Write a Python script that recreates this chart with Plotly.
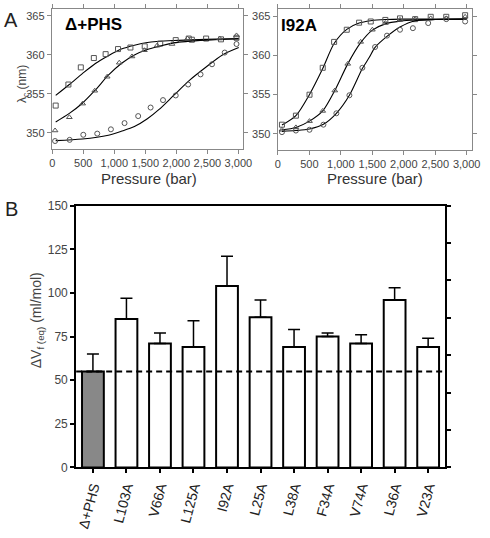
import plotly.graph_objects as go

# ---------------- Panel A data (Δ+PHS) ----------------
phs_sq_p = [55, 260, 460, 670, 860, 1060, 1260, 1490, 1740, 1990, 2200, 2250, 2480, 2720, 2970]
phs_sq_l = [353.5, 356.2, 358.4, 359.6, 360.1, 360.75, 360.95, 361.1, 361.45, 361.9, 362.1, 361.95, 362.1, 362.0, 362.2]
phs_tri_p = [45, 275, 490, 685, 885, 1080, 1285, 1485, 1690, 1930, 2180, 2700, 2970]
phs_tri_l = [350.3, 352.0, 353.75, 355.4, 357.2, 359.0, 359.8, 360.6, 361.2, 361.4, 362.1, 362.1, 362.5]
phs_cir_p = [45, 280, 500, 725, 945, 1165, 1385, 1585, 1785, 1990, 2190, 2390, 2575, 2780, 2970]
phs_cir_l = [348.95, 349.1, 349.75, 349.9, 350.45, 351.25, 352.15, 353.25, 354.2, 354.8, 356.2, 357.5, 358.8, 360.3, 361.4]

phs_fit_sq_p = [55, 275, 485, 695, 904, 1113, 1324, 1533, 1957, 2480, 3006]
phs_fit_sq_l = [354.8, 356.2, 357.6, 358.9, 359.9, 360.75, 361.25, 361.6, 361.85, 362.0, 362.1]
phs_fit_tri_p = [55, 275, 485, 695, 904, 1113, 1324, 1533, 1722, 1957, 2480, 3006]
phs_fit_tri_l = [351.4, 352.5, 353.8, 355.5, 357.4, 358.9, 360.0, 360.7, 361.1, 361.55, 361.9, 362.05]
phs_fit_cir_p = [55, 485, 904, 1113, 1324, 1533, 1722, 1957, 2220, 2480, 2743, 3006]
phs_fit_cir_l = [349.0, 349.2, 349.7, 350.2, 350.8, 351.8, 353.0, 354.8, 356.8, 358.45, 360.0, 360.95]

# ---------------- Panel A data (I92A) ----------------
i92_sq_p = [64, 286, 502, 712, 893, 1094, 1290, 1475, 1707, 1940, 2181, 2428, 2675, 2975]
i92_sq_l = [351.15, 352.3, 354.97, 358.4, 361.7, 363.25, 364.15, 364.3, 364.5, 364.7, 364.6, 364.9, 364.9, 365.1]
i92_tri_p = [64, 286, 502, 712, 904, 1110, 1315, 1501, 1707, 1940, 2181, 2428, 2675, 2975]
i92_tri_l = [350.5, 350.8, 351.6, 352.9, 355.5, 358.9, 361.7, 363.25, 364.1, 364.5, 364.6, 364.7, 364.7, 364.9]
i92_cir_p = [64, 286, 502, 723, 929, 1136, 1342, 1544, 1733, 1940, 2145, 2388, 2675, 2975]
i92_cir_l = [350.2, 350.4, 350.5, 351.15, 352.6, 354.9, 358.4, 361.05, 362.5, 363.25, 363.45, 364.1, 364.6, 364.3]

i92_fit_sq_p = [64, 286, 502, 712, 893, 1094, 1290, 1475, 1707, 2000, 2500, 3000]
i92_fit_sq_l = [351.1, 352.3, 355.0, 358.3, 361.5, 363.3, 364.1, 364.4, 364.55, 364.6, 364.6, 364.6]
i92_fit_tri_p = [64, 286, 502, 712, 904, 1110, 1315, 1501, 1707, 1940, 2200, 2500, 3000]
i92_fit_tri_l = [350.5, 350.8, 351.6, 352.9, 355.5, 358.9, 361.6, 363.2, 364.0, 364.35, 364.5, 364.55, 364.6]
i92_fit_cir_p = [64, 286, 502, 723, 929, 1136, 1342, 1450, 1544, 1733, 1940, 2181, 2500, 3000]
i92_fit_cir_l = [350.3, 350.4, 350.6, 351.2, 352.6, 354.9, 358.3, 359.7, 361.0, 362.4, 363.6, 364.4, 364.55, 364.6]

pressure_ticks = [0, 500, 1000, 1500, 2000, 2500, 3000]
lambda_ticks = [350, 355, 360, 365]

# ---------------- Panel B data ----------------
mutants = ["Δ+PHS", "L103A", "V66A", "L125A", "I92A", "L25A", "L38A", "F34A", "V74A", "L36A", "V23A"]
dv_values = [55, 85, 71, 69, 104, 86, 69, 75, 71, 96, 69]
dv_errors = [10, 12, 6, 15, 17, 10, 10, 2, 5, 7, 5]
reference_level = 55
dv_ticks = [0, 25, 50, 75, 100, 125, 150]

fig = go.Figure()

MK_COLOR = "#555555"

def add_panel(xa, ya, sets):
    for (px, ly, sym, fx, fy) in sets:
        fig.add_trace(go.Scatter(x=fx, y=fy, mode="lines", xaxis=xa, yaxis=ya,
                                 line=dict(color="black", width=1.1, shape="spline", smoothing=0.8),
                                 showlegend=False, hoverinfo="skip"))
        fig.add_trace(go.Scatter(x=px, y=ly, mode="markers", xaxis=xa, yaxis=ya,
                                 marker=dict(symbol=sym, size=5, color=MK_COLOR, line=dict(width=1, color=MK_COLOR)),
                                 showlegend=False))

add_panel("x", "y", [
    (phs_sq_p, phs_sq_l, "square-open", phs_fit_sq_p, phs_fit_sq_l),
    (phs_tri_p, phs_tri_l, "triangle-up-open", phs_fit_tri_p, phs_fit_tri_l),
    (phs_cir_p, phs_cir_l, "circle-open", phs_fit_cir_p, phs_fit_cir_l),
])
add_panel("x2", "y2", [
    (i92_sq_p, i92_sq_l, "square-open", i92_fit_sq_p, i92_fit_sq_l),
    (i92_tri_p, i92_tri_l, "triangle-up-open", i92_fit_tri_p, i92_fit_tri_l),
    (i92_cir_p, i92_cir_l, "circle-open", i92_fit_cir_p, i92_fit_cir_l),
])

bar_colors = ["#888888"] + ["white"] * (len(mutants) - 1)
fig.add_trace(go.Bar(x=mutants, y=dv_values, xaxis="x3", yaxis="y3", width=0.65,
                     marker=dict(color=bar_colors, line=dict(color="black", width=2)),
                     error_y=dict(type="data", array=dv_errors, arrayminus=[0] * len(dv_errors),
                                  symmetric=False, color="black", thickness=1.5, width=6),
                     showlegend=False))
fig.add_trace(go.Scatter(x=[mutants[0]], y=[0], xaxis="x3", yaxis="y4", mode="markers",
                         marker=dict(opacity=0), showlegend=False, hoverinfo="skip"))

# dashed reference line across panel B
fig.add_shape(type="line", xref="x3 domain", x0=0, x1=1, yref="y3",
              y0=reference_level, y1=reference_level,
              line=dict(color="black", width=2, dash="6px,4px"), layer="above")

W, H = 490, 538
def px_x(v): return v / W
def px_y(v): return 1 - v / H

tickfont = dict(family="Liberation Sans, Arial", size=11, color="#444")
axA = dict(showgrid=False, zeroline=False, showline=True, linecolor="#888", linewidth=1,
           mirror="ticks", ticks="outside", ticklen=4, tickcolor="#888", tickfont=tickfont)

fig.update_layout(
    width=W, height=H, autosize=False,
    margin=dict(l=0, r=0, t=0, b=0),
    plot_bgcolor="white", paper_bgcolor="white",
    font=dict(family="Liberation Sans, Arial", color="#333"),
    bargap=0.35,
    xaxis=dict(axA, domain=[px_x(50), px_x(246.5)], range=[-8, 3082], anchor="y",
               tickvals=pressure_ticks, tickformat=",d", ticklabeloverflow="allow"),
    yaxis=dict(axA, domain=[px_y(146), px_y(2)], range=[347.9, 365.9], anchor="x",
               tickvals=lambda_ticks),
    xaxis2=dict(axA, domain=[px_x(281.5), px_x(480.7)], range=[-5, 3083], anchor="y2",
                tickvals=pressure_ticks, tickformat=",d", ticklabeloverflow="allow"),
    yaxis2=dict(axA, domain=[px_y(147), px_y(2)], range=[347.9, 365.9], anchor="x2",
                tickvals=lambda_ticks),
    xaxis3=dict(domain=[px_x(75), px_x(453)], range=[-0.5, len(mutants) - 0.5], anchor="y3",
                showgrid=False, zeroline=False, showline=True, linecolor="black", linewidth=2,
                mirror=True, ticks="outside", ticklen=4, tickwidth=1.5, tickcolor="black",
                tickangle=-75, tickfont=dict(family="Liberation Sans, Arial", size=14, color="#222")),
    yaxis3=dict(domain=[px_y(472.7), px_y(204)], range=[0, 150], anchor="x3",
                showgrid=False, zeroline=False, showline=True, linecolor="black", linewidth=2,
                ticks="outside", ticklen=4, tickwidth=1.5, tickcolor="black", tickvals=dv_ticks,
                tickfont=dict(family="Liberation Sans, Arial", size=12, color="#444")),
    yaxis4=dict(overlaying="y3", side="right", anchor="x3", range=[0, 7], dtick=1,
                showgrid=False, zeroline=False, showline=True, linecolor="black", linewidth=2,
                ticks="outside", ticklen=4, tickwidth=1.5, tickcolor="black", showticklabels=False),
)

ann_font = dict(family="Liberation Sans, Arial", color="#222")
annotations = [
    dict(text="A", x=px_x(8.5), y=px_y(13.5), font=dict(ann_font, size=20)),
    dict(text="B", x=px_x(8.5), y=px_y(207.5), font=dict(ann_font, size=20)),
    dict(text="<b>Δ+PHS</b>", x=px_x(92.5), y=px_y(17.5), font=dict(ann_font, size=17, color="black")),
    dict(text="<b>I92A</b>", x=px_x(303), y=px_y(19.5), font=dict(ann_font, size=17, color="black")),
    dict(text="Pressure (bar)", x=px_x(149.5), y=px_y(176), font=dict(ann_font, size=15, color="#333")),
    dict(text="Pressure (bar)", x=px_x(381), y=px_y(176), font=dict(ann_font, size=15, color="#333")),
    dict(text="λ<sub>c</sub> (nm)", x=px_x(21), y=px_y(78.5), textangle=-90, font=dict(ann_font, size=12, color="#444")),
    dict(text="ΔV<sub>f (eq)</sub> (ml/mol)", x=px_x(35), y=px_y(321.5), textangle=-90, font=dict(ann_font, size=14, color="#444")),
]
for a in annotations:
    a.update(xref="paper", yref="paper", showarrow=False, xanchor="center", yanchor="middle")
fig.update_layout(annotations=annotations)

fig.write_html("out.html", config={"displayModeBar": False},
               post_script="document.body.style.margin='0';document.body.style.overflow='hidden';")
